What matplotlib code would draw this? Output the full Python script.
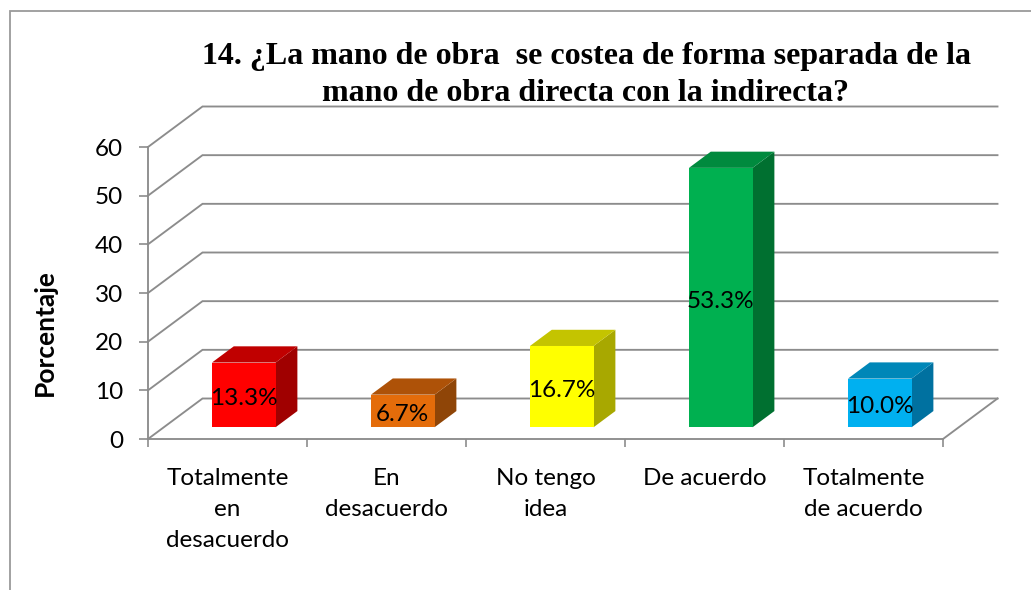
import matplotlib
matplotlib.use("Agg")
import matplotlib.pyplot as plt
from matplotlib.lines import Line2D
from matplotlib.patches import Polygon
from matplotlib.transforms import ScaledTranslation

categories = ["Totalmente\nen\ndesacuerdo", "En\ndesacuerdo", "No tengo\nidea", "De acuerdo", "Totalmente\nde acuerdo"]
values = [13.3, 6.7, 16.7, 53.3, 10.0]
y_ticks = [0, 10, 20, 30, 40, 50, 60]
front_colors = ["#FF0000", "#E46C0A", "#FFFF00", "#00B050", "#00B0F0"]
top_colors = ["#C00000", "#AE5208", "#C4C400", "#008A3E", "#0087B8"]
side_colors = ["#A00000", "#8F4507", "#A8A800", "#007030", "#0071A0"]
title = "14. ¿La mano de obra  se costea de forma separada de la\nmano de obra directa con la indirecta?"

W, H = 1031, 590
fig = plt.figure(figsize=(W / 100, H / 100), dpi=100)
L, R, T, B = 148, 943, 147, 439
ax = fig.add_axes([L / W, 1 - B / H, (R - L) / W, (B - T) / H])
ax.set_xlim(0, 5)
ax.set_ylim(0, 60)
ax.patch.set_visible(False)

DX = 54.5 / 159
DY = 40.5 / (292 / 60)
GRID = "#8C8C8C"
LW = 1.35
Z0, Z1 = 0.29, 0.69
BW = 0.40

def proj(x, y, z):
    return (x + DX * z, y + DY * z)

for v in y_ticks:
    ax.plot(*zip(proj(0, v, 0), proj(0, v, 1), proj(5, v, 1)), color=GRID, lw=LW,
            clip_on=False, zorder=1, solid_joinstyle="miter")
ax.plot(*zip(proj(5, 0, 0), proj(5, 0, 1)), color=GRID, lw=LW, clip_on=False, zorder=1)

down = ScaledTranslation(0, -3.5 / 100, fig.dpi_scale_trans)
for i, v in enumerate(values):
    x0, x1 = i + 0.503 - BW / 2, i + 0.503 + BW / 2
    front = [proj(x0, 0, Z0), proj(x1, 0, Z0), proj(x1, v, Z0), proj(x0, v, Z0)]
    top = [proj(x0, v, Z0), proj(x1, v, Z0), proj(x1, v, Z1), proj(x0, v, Z1)]
    side = [proj(x1, 0, Z0), proj(x1, 0, Z1), proj(x1, v, Z1), proj(x1, v, Z0)]
    ax.add_patch(Polygon(side, fc=side_colors[i], ec="none", clip_on=False, zorder=3))
    ax.add_patch(Polygon(top, fc=top_colors[i], ec="none", clip_on=False, zorder=3))
    ax.add_patch(Polygon(front, fc=front_colors[i], ec="none", clip_on=False, zorder=4))
    cx, cy = proj(i + 0.503, v / 2, Z0)
    ax.text(cx, cy, f"{v:.1f}%", ha="center", va="center", fontsize=17.5,
            family="Lato", color="black", zorder=5, clip_on=False,
            transform=ax.transData + down)

for s in ("top", "right"):
    ax.spines[s].set_visible(False)
for s in ("left", "bottom"):
    ax.spines[s].set_color(GRID)
    ax.spines[s].set_linewidth(LW)
ax.set_yticks(y_ticks)
ax.set_yticklabels([str(v) for v in y_ticks], fontsize=17.5, family="Lato")
ax.set_xticks(range(6))
ax.set_xticklabels([""] * 6)
ax.set_xticks([i + 0.5 for i in range(5)], minor=True)
ax.set_xticklabels(categories, minor=True, fontsize=17.5, family="Lato", linespacing=1.58)
ax.tick_params(axis="x", which="minor", length=0, pad=21)
ax.tick_params(axis="x", which="major", length=6, width=1.2, color=GRID)
ax.tick_params(axis="y", length=6.5, width=1.2, color=GRID, pad=11.5)

fig.text(45 / W, 1 - 333 / H, "Porcentaje", rotation=90, ha="center", va="center",
         fontsize=19, fontweight="bold", family="Lato")
fig.text(586 / W, 1 - 75 / H, title, ha="center", va="center", fontsize=23,
         fontweight="bold", family="Liberation Serif", linespacing=1.32)

fig.add_artist(Line2D([9.5 / W, 9.5 / W, 1], [0, 1 - 10.5 / H, 1 - 10.5 / H],
                      transform=fig.transFigure, color="#9A9A9A", lw=1.3,
                      solid_joinstyle="miter"))
fig.savefig("out.png", dpi=100)
